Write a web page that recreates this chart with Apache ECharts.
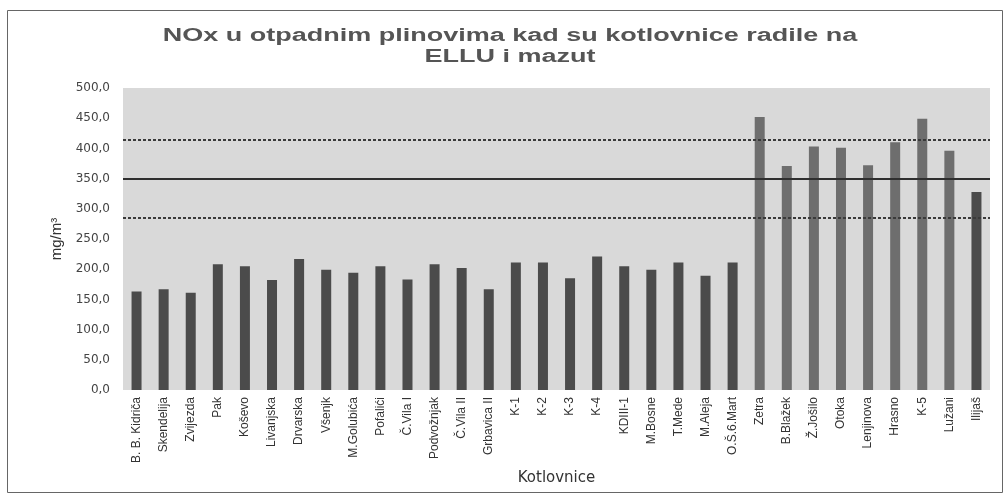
<!DOCTYPE html>
<html>
<head>
<meta charset="utf-8">
<script src="https://cdn.jsdelivr.net/npm/echarts@6/dist/echarts.min.js"></script>
<style>
  html, body { margin: 0; padding: 0; background: #fff; }
  #chart { width: 1005px; height: 494px; }
</style>
</head>
<body>
<div id="chart"></div>
<script>
  // kotlovnice (boiler rooms)
  const categories = [
    'B. B. Kidriča', 'Skendelija', 'Zvijezda', 'Pak', 'Koševo', 'Livanjska', 'Drvarska', 'Všenjk',
    'M.Golubića', 'Pofalići', 'Č.Vila I', 'Podvožnjak', 'Č.Vila II', 'Grbavica II', 'K-1', 'K-2',
    'K-3', 'K-4', 'KDIII-1', 'M.Bosne', 'T.Mede', 'M.Aleja', 'O.Š.6.Mart', 'Zetra',
    'B.Blažek', 'Ž.Jošilo', 'Otoka', 'Lenjinova', 'Hrasno', 'K-5', 'Lužani', 'Ilijaš'
  ]
  // NOx, mg/m3 - dark bars
  const elluValues = [
    163, 167, 161, 208, 205, 182, 217, 199,
    194, 205, 183, 208, 202, 167, 211, 211,
    185, 221, 205, 199, 211, 189, 211, '-',
    '-', '-', '-', '-', '-', '-', '-', 328
  ]
  // lighter bars
  const mazutValues = [
    '-', '-', '-', '-', '-', '-', '-', '-',
    '-', '-', '-', '-', '-', '-', '-', '-',
    '-', '-', '-', '-', '-', '-', '-', 452,
    371, 403, 401, 372, 410, 449, 396, '-'
  ]
  const limitValue = 350
  const bandValues = [415, 285]
  const yTicks = { min: 0, max: 500, interval: 50 }

  let chart = echarts.init(document.getElementById('chart'))

  const dotted = { color: '#3a3a3a', width: 2, type: [3, 2] }

  chart.setOption({
    animation: false,
    graphic: [
      {
        type: 'rect',
        shape: { x: 7.5, y: 10.5, width: 995, height: 482 },
        style: { fill: 'none', stroke: '#666', lineWidth: 1 },
        silent: true
      },
      {
        type: 'text',
        x: 510,
        y: 47,
        scaleX: 1.5,
        style: {
          text: 'NOx u otpadnim plinovima kad su kotlovnice radile na\nELLU i mazut',
          fontFamily: 'Liberation Sans',
          fontWeight: 'bold',
          fontSize: 18,
          lineHeight: 21,
          fill: '#555',
          align: 'center',
          verticalAlign: 'middle'
        }
      }
    ],
    grid: {
      left: 123,
      right: 15,
      top: 88,
      bottom: 104,
      show: true,
      backgroundColor: '#d9d9d9',
      borderWidth: 0
    },
    xAxis: {
      type: 'category',
      data: categories,
      name: 'Kotlovnice',
      nameLocation: 'middle',
      nameGap: 80,
      nameTextStyle: { fontFamily: 'DejaVu Sans', fontSize: 15, color: '#333' },
      axisLine: { show: false },
      axisTick: { show: false },
      axisLabel: {
        interval: 0,
        rotate: 90,
        margin: 7,
        fontFamily: 'Liberation Sans',
        fontSize: 12,
        color: '#333'
      }
    },
    yAxis: {
      type: 'value',
      min: yTicks.min,
      max: yTicks.max,
      interval: yTicks.interval,
      name: 'mg/m³',
      nameLocation: 'middle',
      nameGap: 53,
      nameTextStyle: { fontFamily: 'Liberation Sans', fontSize: 15, color: '#333' },
      axisLine: { show: false },
      axisTick: { show: false },
      splitLine: { show: false },
      axisLabel: {
        margin: 13,
        fontFamily: 'DejaVu Sans',
        fontSize: 12,
        color: '#444',
        formatter: (v) => v.toFixed(1).replace('.', ',')
      }
    },
    series: [
      {
        name: 'ELLU',
        type: 'bar',
        data: elluValues,
        barWidth: 10,
        barGap: '-100%',
        itemStyle: { color: '#4b4b4b' },
        markLine: {
          silent: true,
          symbol: 'none',
          label: { show: false },
          data: [
            { yAxis: limitValue, lineStyle: { color: '#2f2f2f', width: 2, type: 'solid' } },
            { yAxis: bandValues[0], lineStyle: dotted },
            { yAxis: bandValues[1], lineStyle: dotted }
          ]
        }
      },
      {
        name: 'mazut',
        type: 'bar',
        data: mazutValues,
        barWidth: 10,
        barGap: '-100%',
        itemStyle: { color: '#6e6e6e' }
      }
    ]
  })
</script>
</body>
</html>
